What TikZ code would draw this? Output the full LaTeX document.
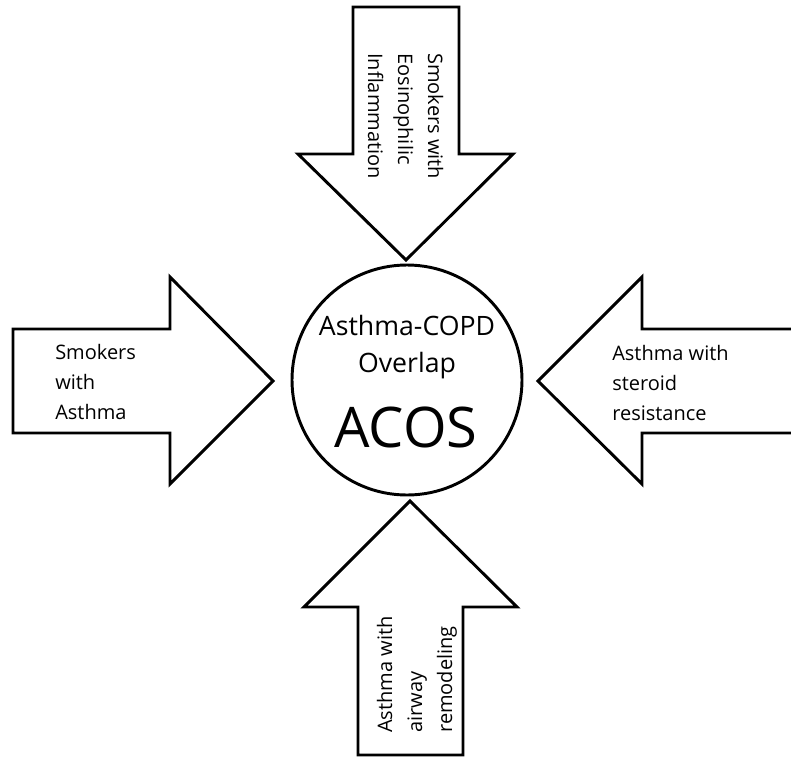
\documentclass[tikz,border=0pt]{standalone}
\usepackage{fontspec}
\setmainfont{Open Sans}
\begin{document}
\begin{tikzpicture}[x=0.75pt,y=-0.75pt,
  arrowshape/.style={draw=black,fill=white,line width=2.2pt,line join=miter},
  lbl/.style={inner sep=0pt,anchor=base west,font=\fontsize{15}{22.5}\selectfont},
  ctr/.style={inner sep=0pt,anchor=base,font=\fontsize{20}{27.75}\selectfont}]
\useasboundingbox[fill=white] (0,0) rectangle (791,757);
% top arrow
\draw[arrowshape] (353,7) -- (459,7) -- (459,154) -- (513,154) -- (406,260) -- (298,154) -- (353,154) -- cycle;
% left arrow
\draw[arrowshape] (13,329) -- (170,329) -- (170,277) -- (273,381) -- (170,484) -- (170,433) -- (13,433) -- cycle;
% right arrow (shaft runs off the page)
\fill[white] (795,329) -- (642,329) -- (642,277) -- (538,381) -- (642,484) -- (642,433) -- (795,433) -- cycle;
\draw[arrowshape,fill=none] (795,329) -- (642,329) -- (642,277) -- (538,381) -- (642,484) -- (642,433) -- (795,433);
% bottom arrow
\draw[arrowshape] (358,755) -- (358,607) -- (304,607) -- (410,501) -- (517,607) -- (463,607) -- (463,755) -- cycle;
% centre circle
\node[circle,draw=black,line width=2.2pt,fill=white,minimum size=172.5pt,inner sep=0pt] (acos) at (407,380) {};
\node[ctr] (acoslong) at (407,335) {\begin{tabular}[t]{@{}c@{}}Asthma-COPD\\Overlap\end{tabular}};
\node[inner sep=0pt,anchor=base,font=\fontsize{42}{50}\selectfont] (acosabbr) at (406,447) {ACOS};
% labels
\node[lbl] (lsmoke) at (55,359) {\begin{tabular}[t]{@{}l@{}}Smokers\\with\\Asthma\end{tabular}};
\node[lbl] (lsteroid) at (612,360) {\begin{tabular}[t]{@{}l@{}}Asthma with\\steroid\\resistance\end{tabular}};
\node[lbl,rotate=-90] (leos) at (428,53) {\begin{tabular}[t]{@{}l@{}}Smokers with\\Eosinophilic\\Inflammation\end{tabular}};
\node[lbl,rotate=90] (lairway) at (392,733) {\begin{tabular}[t]{@{}l@{}}Asthma with\\airway\\remodeling\end{tabular}};
\end{tikzpicture}
\end{document}
